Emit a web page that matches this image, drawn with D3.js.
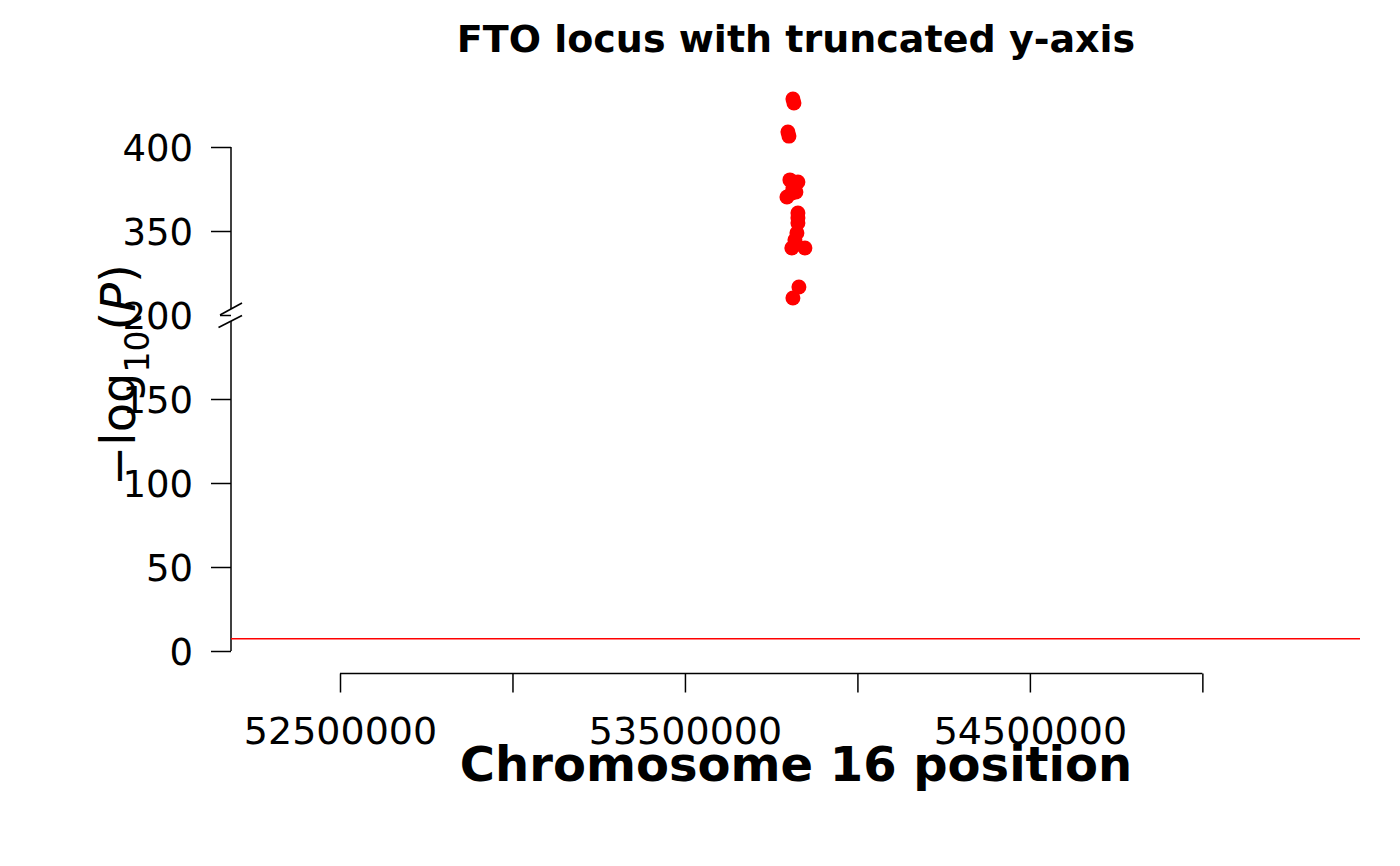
<!DOCTYPE html>
<html>
<head>
<meta charset="utf-8">
<script src="https://cdn.jsdelivr.net/npm/d3@7"></script>
<style>
  body { margin: 0; background: #fff; }
  text { font-family: "DejaVu Sans", sans-serif; }
</style>
</head>
<body>
<div id="chart"></div>
<script>
// SNP positions on chromosome 16 (bp)
const positions = [53813000, 53816000, 53798500, 53801500, 53804300, 53827500, 53813000,
    53795700, 53810000, 53821700, 53827500, 53827500, 53827500, 53824600, 53818800,
    53809900, 53847800, 53830400, 53813000];
// -log10(P) for each SNP
const logP = [428.6, 426.2, 408.9, 406.5, 380.4, 379.2, 375.6, 370.2, 372.6, 373.2,
    360.7, 357.8, 354.8, 348.8, 344.6, 339.9, 339.9, 316.7, 310.1];

const xTicks = [52500000, 53000000, 53500000, 54000000, 54500000, 55000000];
const xTickLabels = ['52500000', '', '53500000', '', '54500000', ''];
const yTicksLow = [0, 50, 100, 150, 200];
const yTicksHigh = [350, 400];
const gapFrom = 200, gapTo = 300;   // y-axis is cut between these values
const gwsLine = -Math.log10(5e-8);  // genome-wide significance

const W = 1400, H = 866;
const plot = { left: 231, right: 1360, zero: 651 };

const svg = d3.select('#chart').append('svg')
    .attr('width', W).attr('height', H);

// x scale: 52.5M at px 340, 345 px per Mb
const x = d3.scaleLinear()
    .domain([52184000, 55457000])
    .range([plot.left, plot.right]);

// plotted y (after removing the gap)
const y = d3.scaleLinear()
    .domain([0, 300])
    .range([plot.zero, 147]);

const gapShift = gapTo - gapFrom; // 100 units removed
const squash = v => v > gapFrom ? v - gapShift : v;

// y axis with break
const yTickVals = yTicksLow.concat(yTicksHigh);
const yAxis = d3.axisLeft(y)
    .tickValues(yTickVals.map(squash))
    .tickSize(20)
    .tickPadding(18)
    .tickFormat((d, i) => yTickVals[i]);

const yg = svg.append('g')
    .attr('transform', `translate(${plot.left},0)`)
    .call(yAxis);
yg.select('.domain').remove();
yg.selectAll('.tick line').attr('stroke', '#000').attr('stroke-width', 1.5)
    .filter(d => d === gapFrom).attr('x2', -11);
yg.selectAll('.tick text')
    .attr('fill', '#000')
    .style('font-size', '37px')
    .attr('dy', null)
    .attr('y', 13.3);

const yb = y(gapFrom);
// upper and lower axis segments
svg.append('line')
    .attr('x1', plot.left).attr('x2', plot.left)
    .attr('y1', y(squash(400))).attr('y2', yb - 6)
    .attr('stroke', '#000').attr('stroke-width', 1.5);
svg.append('line')
    .attr('x1', plot.left).attr('x2', plot.left)
    .attr('y1', yb + 6).attr('y2', y(0))
    .attr('stroke', '#000').attr('stroke-width', 1.5);
// break marks
[0, 12.5].forEach(off => {
    svg.append('line')
        .attr('x1', plot.left - 11 - (off ? 1.5 : 0)).attr('y1', yb + off)
        .attr('x2', plot.left + 11).attr('y2', yb + off - 12)
        .attr('stroke', '#000').attr('stroke-width', 1.6);
});

// x axis, drawn below the plot
const xAxis = d3.axisBottom(x)
    .tickValues(xTicks)
    .tickSize(19)
    .tickSizeOuter(0)
    .tickPadding(4)
    .tickFormat((d, i) => xTickLabels[i]);

const xg = svg.append('g')
    .attr('transform', 'translate(0,673.5)')
    .call(xAxis);
xg.select('.domain').remove();
xg.append('line')
    .attr('x1', x(xTicks[0])).attr('x2', x(xTicks[xTicks.length - 1]))
    .attr('stroke', '#000').attr('stroke-width', 1.5);
xg.selectAll('.tick line').attr('stroke', '#000').attr('stroke-width', 1.5);
xg.selectAll('.tick text')
    .attr('fill', '#000')
    .style('font-size', '38px')
    .attr('dy', null)
    .attr('y', 70);

// significance line
svg.append('line')
    .attr('x1', plot.left).attr('x2', plot.right)
    .attr('y1', y(gwsLine)).attr('y2', y(gwsLine))
    .attr('stroke', '#ff0000').attr('stroke-width', 1.5);

// points
svg.append('g')
    .selectAll('circle')
    .data(positions.map((p, i) => ({ pos: p, lp: logP[i] })))
    .enter()
    .append('circle')
    .attr('cx', d => x(d.pos))
    .attr('cy', d => y(squash(d.lp)))
    .attr('r', 7.5)
    .attr('fill', '#ff0000');

// title and axis titles
svg.append('text')
    .attr('x', 796).attr('y', 52)
    .attr('text-anchor', 'middle')
    .style('font-size', '38px').style('font-weight', 'bold')
    .text('FTO locus with truncated y-axis');

svg.append('text')
    .attr('x', 796).attr('y', 781)
    .attr('text-anchor', 'middle')
    .style('font-size', '48px').style('font-weight', 'bold')
    .text('Chromosome 16 position');

const yl = svg.append('text')
    .attr('transform', 'translate(135,375) rotate(-90)')
    .attr('text-anchor', 'middle')
    .style('font-size', '48px');
yl.append('tspan').text('\u2212log');
yl.append('tspan').attr('dy', 14).style('font-size', '33px').text('10');
yl.append('tspan').attr('dy', -14).text('(');
yl.append('tspan').style('font-style', 'italic').text('P');
yl.append('tspan').text(')');
</script>
</body>
</html>
